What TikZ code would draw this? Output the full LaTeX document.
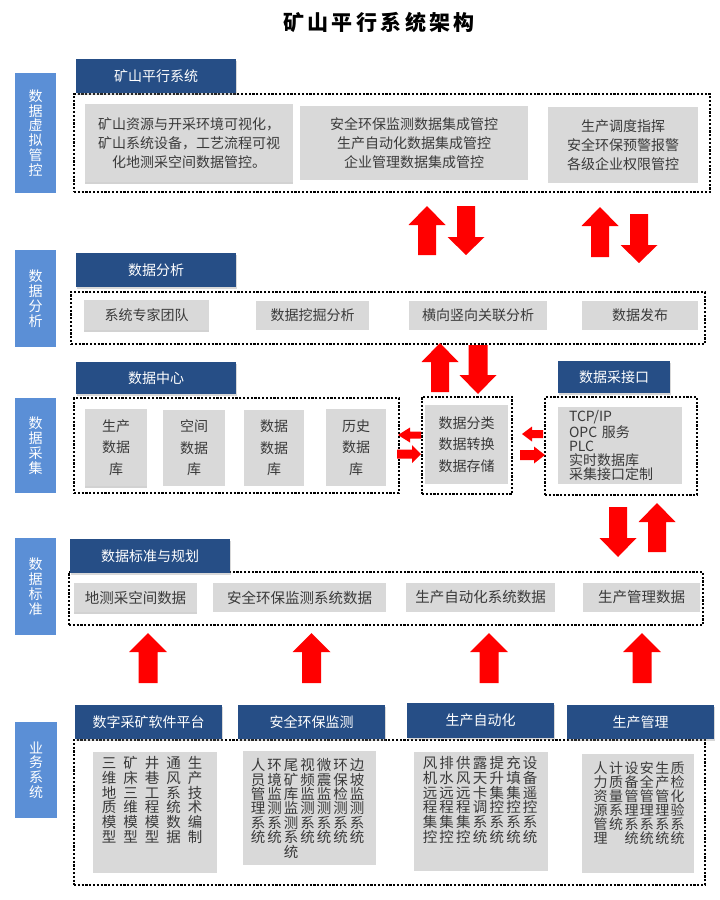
\documentclass[tikz,border=0pt]{standalone}
\usepackage{fontspec}
\setmainfont{Noto Sans CJK SC}
\usetikzlibrary{shadows}
\definecolor{hdrblue}{HTML}{264E86}
\definecolor{lblblue}{HTML}{5B8FD6}
\definecolor{boxgray}{HTML}{D9D9D9}
\definecolor{txtgray}{HTML}{3A3A3A}
\definecolor{arrred}{HTML}{FF0000}
\newcommand{\bx}[7]{\node[#1, minimum width={#5-#3}, minimum height={#6-#4}] (#2) at ({(#3+#5)/2},{(#4+#6)/2}) {#7};}
% vertical block arrow: xc, ytail, ybase, ytip, half shaft, half head
\newcommand{\varr}[6]{\fill[arrred] ({#1-#5},#2) -- ({#1-#5},#3) -- ({#1-#6},#3) -- (#1,#4) -- ({#1+#6},#3) -- ({#1+#5},#3) -- ({#1+#5},#2) -- cycle;}
% horizontal block arrow: yc, xtail, xbase, xtip, half shaft, half head
\newcommand{\harr}[6]{\fill[arrred] (#2,{#1-#5}) -- (#3,{#1-#5}) -- (#3,{#1-#6}) -- (#4,#1) -- (#3,{#1+#6}) -- (#3,{#1+#5}) -- (#2,{#1+#5}) -- cycle;}
\newcommand{\vc}[4]{\node[vtext] (#1) at (#2,#3) {\rule{0pt}{13pt}#4};}
\tikzset{
  hdr/.style={fill=hdrblue, text=white, inner sep=0pt, font=\fontsize{14}{16}\selectfont,
    drop shadow={shadow xshift=1pt, shadow yshift=-1.5pt, opacity=.3}},
  lbl/.style={fill=lblblue, text=white, inner sep=0pt, align=center, font=\fontsize{14}{14.8}\selectfont},
  gbox/.style={fill=boxgray, text=txtgray, inner sep=0pt, align=center, font=\fontsize{14}{19}\selectfont},
  gshad/.style={drop shadow={shadow xshift=0pt, shadow yshift=-2pt, opacity=.35}},
  dbox/.style={draw=black, line width=2.2pt, dash pattern=on 2.2pt off 1.6pt, inner sep=0pt},
  vtext/.style={anchor=north, align=center, inner sep=0pt, text=txtgray}
}
\begin{document}
\begin{tikzpicture}[x=1pt,y=-1pt]
\useasboundingbox (0,0) rectangle (720,900);
\fill[white] (0,0) rectangle (720,900);
% title
\node[font=\fontsize{21}{24}\selectfont\bfseries\addfontfeatures{LetterSpace=16}, text=black] (title) at (379,22) {矿山平行系统架构};
% left labels
\bx{lbl}{L1}{15}{73}{56}{193}{数\\据\\虚\\拟\\管\\控}
\bx{lbl}{L2}{15}{250}{56}{347}{数\\据\\分\\析}
\bx{lbl}{L3}{15}{398}{56}{493}{数\\据\\采\\集}
\bx{lbl}{L4}{15}{538}{56}{635}{数\\据\\标\\准}
\bx{lbl}{L5}{15}{722}{57}{818}{业\\务\\系\\统}
% dotted frames
\bx{dbox}{D1}{74}{94}{710}{192}{}
\bx{dbox}{D2}{71}{292}{705}{344}{}
\bx{dbox}{D3a}{74}{398}{399}{493}{}
\bx{dbox}{D3b}{422}{397}{512}{494}{}
\bx{dbox}{D3c}{545}{397}{697}{495}{}
\bx{dbox}{D4}{69}{572}{703}{625}{}
\bx{dbox}{D5}{74}{740}{705}{885}{}
% headers
\bx{hdr}{H1}{76}{59}{236}{93}{矿山平行系统}
\bx{hdr}{H2}{76}{253}{236}{287}{数据分析}
\bx{hdr}{H3}{76}{362}{236}{394}{数据中心}
\bx{hdr}{H3b}{558}{361}{670}{393}{数据采接口}
\bx{hdr}{H4}{70}{539}{230}{573}{数据标准与规划}
\bx{hdr}{H5a}{75}{705}{222}{739}{数字采矿软件平台}
\bx{hdr}{H5b}{238}{705}{385}{739}{安全环保监测}
\bx{hdr}{H5c}{407}{703}{554}{738}{生产自动化}
\bx{hdr}{H5d}{567}{705}{714}{739}{生产管理}
% section 1 boxes
\bx{gbox,gshad}{G1a}{85}{104}{293}{182}{矿山资源与开采环境可视化，\\矿山系统设备，工艺流程可视\\化地测采空间数据管控。}
\bx{gbox}{G1b}{300}{106}{528}{180}{安全环保监测数据集成管控\\生产自动化数据集成管控\\企业管理数据集成管控}
\bx{gbox}{G1c}{548}{107}{698}{183}{生产调度指挥\\安全环保预警报警\\各级企业权限管控}
% section 2 boxes
\bx{gbox,gshad}{G2a}{84}{300}{209}{330}{系统专家团队}
\bx{gbox}{G2b}{256}{301}{369}{330}{数据挖掘分析}
\bx{gbox}{G2c}{409}{301}{547}{330}{横向竖向关联分析}
\bx{gbox}{G2d}{582}{301}{698}{330}{数据发布}
% section 3 boxes
\begin{scope}[gbox/.append style={font=\fontsize{14}{21.5}\selectfont}]
\bx{gbox,gshad}{G3a}{85}{409}{147}{486}{生产\\数据\\库}
\bx{gbox}{G3b}{163}{410}{225}{486}{空间\\数据\\库}
\bx{gbox}{G3c}{244}{410}{304}{486}{数据\\数据\\库}
\bx{gbox}{G3d}{326}{409}{386}{486}{历史\\数据\\库}
\bx{gbox}{G3m}{425}{405}{508}{484}{数据分类\\数据转换\\数据存储}
\end{scope}
\bx{gbox,align=left,text width=102pt,font=\fontsize{14}{14}\selectfont}{G3i}{558}{407}{682}{484}{TCP/IP\\OPC 服务\\PLC\\实时数据库\\采集接口定制}
% section 4 boxes
\begin{scope}[gbox/.append style={font=\fontsize{14.5}{16}\selectfont}]
\bx{gbox,gshad}{G4a}{74}{583}{197}{612}{地测采空间数据}
\bx{gbox}{G4b}{213}{583}{386}{612}{安全环保监测系统数据}
\bx{gbox}{G4c}{406}{583}{555}{612}{生产自动化系统数据}
\bx{gbox}{G4d}{583}{583}{700}{612}{生产管理数据}
\end{scope}
% section 5 boxes
\bx{gbox}{G5a}{93}{752}{217}{873}{}
\bx{gbox}{G5b}{243}{751}{376}{865}{}
\bx{gbox}{G5c}{414}{752}{548}{871}{}
\bx{gbox}{G5d}{582}{754}{694}{873}{}
\begin{scope}[vtext/.append style={font=\fontsize{14.5}{14.7}\selectfont}]
\vc{a1}{109}{755.5}{三\\维\\地\\质\\模\\型}
\vc{a2}{130.5}{755.5}{矿\\床\\三\\维\\模\\型}
\vc{a3}{152}{755.5}{井\\巷\\工\\程\\模\\型}
\vc{a4}{173.5}{755.5}{通\\风\\系\\统\\数\\据}
\vc{a5}{195}{755.5}{生\\产\\技\\术\\编\\制}
\vc{c1}{430}{755.5}{风\\机\\远\\程\\集\\控}
\vc{c2}{446.7}{755.5}{排\\水\\远\\程\\集\\控}
\vc{c3}{463.4}{755.5}{供\\风\\远\\程\\集\\控}
\vc{c4}{480.1}{755.5}{露\\天\\卡\\调\\系\\统}
\vc{c5}{496.8}{755.5}{提\\升\\集\\控\\系\\统}
\vc{c6}{513.5}{755.5}{充\\填\\集\\控\\系\\统}
\vc{c7}{530.2}{755.5}{设\\备\\遥\\控\\系\\统}
\end{scope}
\begin{scope}[vtext/.append style={font=\fontsize{14.5}{14.4}\selectfont}]
\vc{b1}{258}{757.5}{人\\员\\管\\理\\系\\统}
\vc{b2}{274.5}{757.5}{环\\境\\监\\测\\系\\统}
\vc{b3}{291}{757.5}{尾\\矿\\库\\监\\测\\系\\统}
\vc{b4}{307.5}{757.5}{视\\频\\监\\测\\系\\统}
\vc{b5}{324}{757.5}{微\\震\\监\\测\\系\\统}
\vc{b6}{340.5}{757.5}{环\\保\\检\\测\\系\\统}
\vc{b7}{357}{757.5}{边\\坡\\监\\测\\系\\统}
\end{scope}
\begin{scope}[vtext/.append style={font=\fontsize{14}{14}\selectfont}]
\vc{d1}{600.7}{760.5}{人\\力\\资\\源\\管\\理}
\vc{d2}{616.1}{760.5}{计\\质\\量\\系\\统}
\vc{d3}{631.5}{760.5}{设\\备\\管\\理\\系\\统}
\vc{d4}{646.9}{760.5}{安\\全\\管\\理\\系\\统}
\vc{d5}{662.3}{760.5}{生\\产\\管\\理\\系\\统}
\vc{d6}{677.7}{760.5}{质\\检\\化\\验\\系\\统}
\end{scope}
% arrows between layers
\varr{427}{255}{225}{206}{9}{18.5}
\varr{466}{206}{237}{255}{9}{18.5}
\varr{600}{257}{226}{207}{9}{18.5}
\varr{639}{214}{245}{263}{9}{18.5}
\varr{440}{392}{362}{343}{9}{18.5}
\varr{478}{345}{375}{394}{9.5}{18.5}
\varr{618}{507}{538}{557}{9}{18.5}
\varr{657}{552}{522}{503}{9}{18.5}
\varr{148}{683}{652}{633}{9.5}{19}
\varr{311.5}{683}{652}{633}{9.5}{19}
\varr{489}{683}{652}{633}{9.5}{19}
\varr{642}{683}{652}{633}{9.5}{19}
\harr{435}{421}{410}{398}{3.5}{7.5}
\harr{454}{397}{412}{421}{4.5}{9}
\harr{434}{543}{532}{522}{4}{7.5}
\harr{455}{520}{534}{545}{5}{8.5}
\end{tikzpicture}
\end{document}
